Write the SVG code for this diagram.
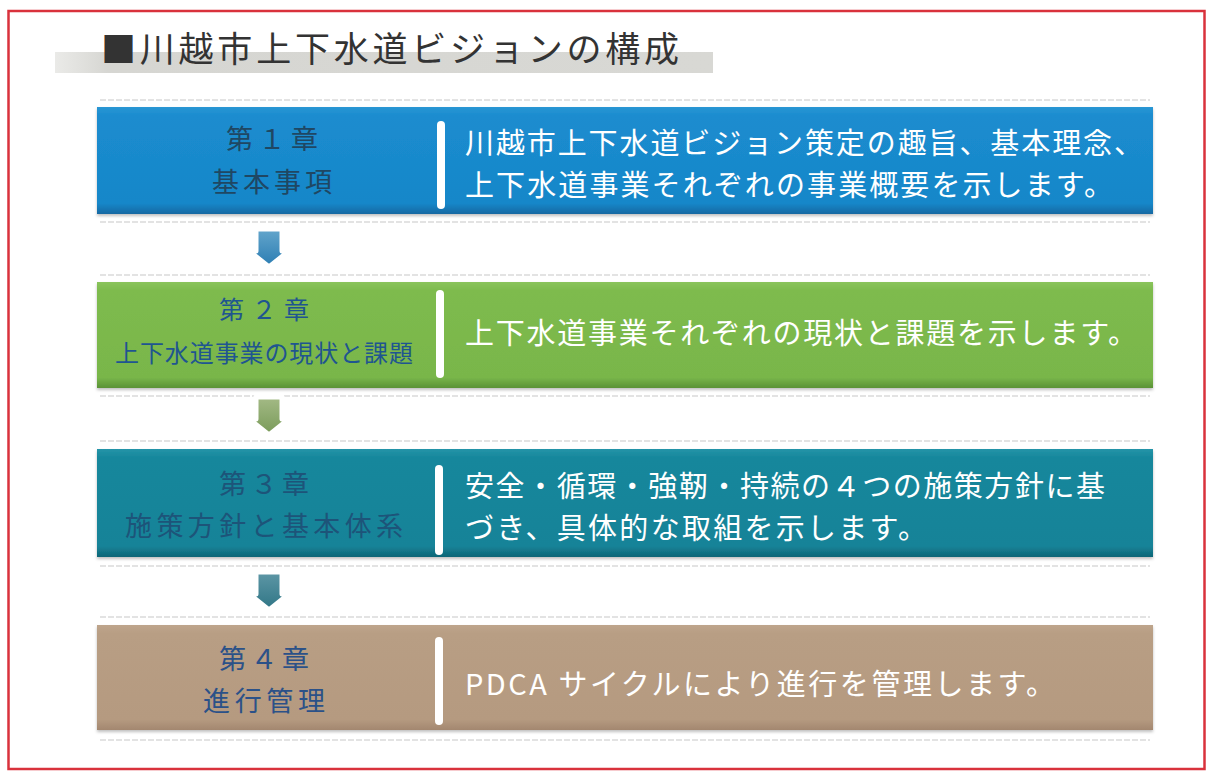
<svg xmlns="http://www.w3.org/2000/svg" width="1212" height="771" viewBox="0 0 1212 771">
  <defs>
    <linearGradient id="gBlue" x1="0" y1="0" x2="0" y2="1">
      <stop offset="0" stop-color="#2a97d4"/>
      <stop offset="0.08" stop-color="#1b8ccf"/>
      <stop offset="0.9" stop-color="#1787c9"/>
      <stop offset="1" stop-color="#1468a2"/>
    </linearGradient>
    <linearGradient id="gGreen" x1="0" y1="0" x2="0" y2="1">
      <stop offset="0" stop-color="#8ac45c"/>
      <stop offset="0.08" stop-color="#7ebb4e"/>
      <stop offset="0.9" stop-color="#79b64a"/>
      <stop offset="1" stop-color="#5a9236"/>
    </linearGradient>
    <linearGradient id="gTeal" x1="0" y1="0" x2="0" y2="1">
      <stop offset="0" stop-color="#2594a8"/>
      <stop offset="0.08" stop-color="#17879c"/>
      <stop offset="0.9" stop-color="#158398"/>
      <stop offset="1" stop-color="#0e6576"/>
    </linearGradient>
    <linearGradient id="gTan" x1="0" y1="0" x2="0" y2="1">
      <stop offset="0" stop-color="#bea58c"/>
      <stop offset="0.08" stop-color="#b89e84"/>
      <stop offset="0.9" stop-color="#b59a80"/>
      <stop offset="1" stop-color="#a38770"/>
    </linearGradient>
    <linearGradient id="gBand" x1="0" y1="0" x2="1" y2="0">
      <stop offset="0" stop-color="#dcdcd8" stop-opacity="0.6"/>
      <stop offset="0.08" stop-color="#d6d6d2"/>
      <stop offset="1" stop-color="#d8d8d4"/>
    </linearGradient>
    <linearGradient id="aBlue" x1="0" y1="0" x2="0" y2="1">
      <stop offset="0" stop-color="#64a6cc"/>
      <stop offset="1" stop-color="#2a7cb2"/>
    </linearGradient>
    <linearGradient id="aGreen" x1="0" y1="0" x2="0" y2="1">
      <stop offset="0" stop-color="#a4ba86"/>
      <stop offset="1" stop-color="#789a58"/>
    </linearGradient>
    <linearGradient id="aTeal" x1="0" y1="0" x2="0" y2="1">
      <stop offset="0" stop-color="#5e97a6"/>
      <stop offset="1" stop-color="#2f7585"/>
    </linearGradient>
    <filter id="shadow" x="-5%" y="-10%" width="110%" height="130%">
      <feDropShadow dx="0" dy="2" stdDeviation="1.5" flood-color="#000" flood-opacity="0.25"/>
    </filter>
    <path id="arrowShape" d="M-13,0 H13 V22 H20 L0,38 L-20,22 H-13 Z"/>
  </defs>
  <style>
    text { font-family: "Noto Sans CJK JP", "Noto Sans", "Liberation Sans", sans-serif; }
    .title { font-size: 35px; fill: #333333; }
    .chap { font-size: 27px; text-anchor: middle; }
    .desc { font-size: 29px; fill: #ffffff; }
    .bar { fill: #ffffff; }
    .faint { stroke: #e3e3e3; stroke-width: 2; stroke-dasharray: 6 2; fill: none; }
    .arrow { stroke: #ffffff; stroke-width: 5; stroke-linejoin: round; }
  </style>

  <rect x="0" y="0" width="1212" height="771" fill="#ffffff"/>
  <rect x="8.5" y="11" width="1196" height="758" fill="none" stroke="#d9323c" stroke-width="2.5"/>

  <g id="title">
    <rect x="55" y="52" width="658" height="21" fill="url(#gBand)"/>
    <text class="title" x="101" y="62" textLength="578" lengthAdjust="spacing">■川越市上下水道ビジョンの構成</text>
  </g>

  <g id="faint-lines">
    <line class="faint" x1="100" y1="100" x2="1150" y2="100"/>
    <line class="faint" x1="100" y1="222" x2="1150" y2="222"/>
    <line class="faint" x1="100" y1="275" x2="1150" y2="275"/>
    <line class="faint" x1="100" y1="396" x2="1150" y2="396"/>
    <line class="faint" x1="100" y1="441" x2="1150" y2="441"/>
    <line class="faint" x1="100" y1="566" x2="1150" y2="566"/>
    <line class="faint" x1="100" y1="617" x2="1150" y2="617"/>
    <line class="faint" x1="100" y1="740" x2="1150" y2="740"/>
  </g>

  <g id="connectors">
    <use href="#arrowShape" class="arrow" x="269" y="229" fill="url(#aBlue)"/>
    <use href="#arrowShape" class="arrow" x="269" y="397" fill="url(#aGreen)"/>
    <use href="#arrowShape" class="arrow" x="269" y="572" fill="url(#aTeal)"/>
  </g>

  <g id="chapter1">
    <rect x="97" y="107" width="1056" height="107" fill="url(#gBlue)" filter="url(#shadow)"/>
    <rect class="bar" x="437" y="121" width="8" height="88" rx="4"/>
    <text class="chap" x="272" y="149" fill="#1f4763" textLength="92" lengthAdjust="spacing">第１章</text>
    <text class="chap" x="272" y="192" fill="#1f4763" textLength="120" lengthAdjust="spacing">基本事項</text>
    <text class="desc" x="465" y="154" textLength="678" lengthAdjust="spacing">川越市上下水道ビジョン策定の趣旨、基本理念、</text>
    <text class="desc" x="465" y="196" textLength="648" lengthAdjust="spacing">上下水道事業それぞれの事業概要を示します。</text>
  </g>

  <g id="chapter2">
    <rect x="97" y="282" width="1056" height="106" fill="url(#gGreen)" filter="url(#shadow)"/>
    <rect class="bar" x="436" y="290" width="8" height="88" rx="4"/>
    <text class="chap" x="264" y="319" fill="#1f5590" textLength="90" lengthAdjust="spacing" style="font-size:25px">第２章</text>
    <text class="chap" x="264" y="362" fill="#1f5590" textLength="298" lengthAdjust="spacing" style="font-size:24px">上下水道事業の現状と課題</text>
    <text class="desc" x="465" y="344" textLength="672" lengthAdjust="spacing">上下水道事業それぞれの現状と課題を示します。</text>
  </g>

  <g id="chapter3">
    <rect x="97" y="449" width="1056" height="108" fill="url(#gTeal)" filter="url(#shadow)"/>
    <rect class="bar" x="435" y="465" width="8" height="90" rx="4"/>
    <text class="chap" x="264" y="494" fill="#1d5479" textLength="90" lengthAdjust="spacing">第３章</text>
    <text class="chap" x="264" y="536" fill="#1d5479" textLength="278" lengthAdjust="spacing">施策方針と基本体系</text>
    <text class="desc" x="465" y="497" textLength="640" lengthAdjust="spacing">安全・循環・強靭・持続の４つの施策方針に基</text>
    <text class="desc" x="465" y="539" textLength="462" lengthAdjust="spacing">づき、具体的な取組を示します。</text>
  </g>

  <g id="chapter4">
    <rect x="97" y="625" width="1056" height="105" fill="url(#gTan)" filter="url(#shadow)"/>
    <rect class="bar" x="435" y="637" width="8" height="88" rx="4"/>
    <text class="chap" x="264" y="669" fill="#2b5188" textLength="90" lengthAdjust="spacing">第４章</text>
    <text class="chap" x="264" y="711" fill="#2b5188" textLength="122" lengthAdjust="spacing">進行管理</text>
    <text class="desc" x="465" y="695" textLength="590" lengthAdjust="spacing">PDCA サイクルにより進行を管理します。</text>
  </g>
</svg>
